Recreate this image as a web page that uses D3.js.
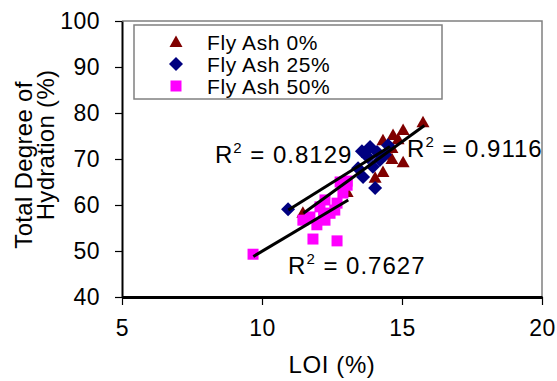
<!DOCTYPE html>
<html>
<head>
<meta charset="utf-8">
<script src="https://unpkg.com/d3@7/dist/d3.min.js"></script>
<style>
  body { margin: 0; background: #fff; }
  svg { display: block; font-family: Arial, "Liberation Sans", sans-serif; }
</style>
</head>
<body>
<div id="chart"></div>
<script>
// values
const seriesNames = ["Fly Ash 0%", "Fly Ash 25%", "Fly Ash 50%"];

const fa0Loi = [15.75, 15.04, 14.68, 14.32, 14.86, 14.64, 14.5, 14.64, 15.04, 14.32, 14.04, 13.04, 11.46];
const fa0Hyd = [78.0, 76.3, 75.2, 74.1, 74.3, 72.4, 70.9, 70.0, 69.3, 67.2, 65.9, 62.8, 58.3];

const fa25Loi = [10.93, 13.43, 13.57, 13.61, 13.79, 13.86, 13.96, 14.04, 14.11, 14.21, 14.39, 14.5];
const fa25Hyd = [59.1, 68.0, 71.7, 66.1, 70.4, 72.6, 68.3, 63.7, 71.5, 69.8, 70.9, 73.0];

const fa50Loi = [9.68, 11.46, 11.71, 11.82, 11.96, 12.07, 12.2, 12.25, 12.25, 12.43, 12.6, 12.68, 12.68, 12.79, 12.89, 13.04, 13.04];
const fa50Hyd = [49.3, 56.7, 57.4, 52.6, 55.7, 59.6, 58.2, 56.7, 61.1, 58.2, 58.9, 60.4, 52.2, 65.0, 62.6, 64.3, 65.2];

// trendline ends (LOI, hydration) and R² labels
const trendX0 = [11.48, 10.94, 9.69];
const trendX1 = [15.8, 14.57, 13.08];
const trendY0 = [58.2, 58.9, 48.8];
const trendY1 = [77.3, 72.7, 61.1];
const r2Text = ["0.9116", "0.8129", "0.7627"];
const r2X = [15.18, 8.32, 10.93];
const r2Y = [70.4, 69.1, 45.0];

const xTicks = [5, 10, 15, 20];
const yTicks = [40, 50, 60, 70, 80, 90, 100];

const width = 557, height = 381;
const colors = ["#800000", "#000080", "#ff00ff"];
const font = "Arial, 'Liberation Sans', sans-serif";

const svg = d3.select("#chart").append("svg")
  .attr("width", width)
  .attr("height", height);

const x = d3.scaleLinear().domain([5, 20]).range([122, 542]);
const y = d3.scaleLinear().domain([40, 100]).range([297, 21]);

// plot frame (top/right grey)
svg.append("path")
  .attr("d", `M${x(5)},${y(100)}H${x(20)}V${y(40)}`)
  .attr("fill", "none")
  .attr("stroke", "#808080")
  .attr("stroke-width", 1.5);

// axes
const xAxis = svg.append("g")
  .attr("transform", `translate(0,${y(40)})`)
  .call(d3.axisBottom(x).tickValues(xTicks).tickSize(8).tickSizeOuter(0).tickPadding(15));
xAxis.select(".domain").attr("stroke", "#000").attr("stroke-width", 3);
xAxis.selectAll(".tick line").attr("stroke", "#000").attr("stroke-width", 1.2);
xAxis.selectAll(".tick text").attr("font-size", 23).attr("letter-spacing", 0.5)
  .attr("fill", "#000").attr("font-family", font);

const yAxis = svg.append("g")
  .attr("transform", `translate(${x(5)},0)`)
  .call(d3.axisLeft(y).tickValues(yTicks).tickSize(7).tickSizeOuter(0).tickPadding(15));
yAxis.select(".domain").attr("stroke", "#000").attr("stroke-width", 2);
yAxis.selectAll(".tick line").attr("stroke", "#000").attr("stroke-width", 1.2);
yAxis.selectAll(".tick text").attr("font-size", 23).attr("letter-spacing", 0.5)
  .attr("fill", "#000").attr("font-family", font);

// axis titles
svg.append("text")
  .attr("x", 332).attr("y", 373)
  .attr("text-anchor", "middle")
  .attr("font-size", 24)
  .attr("letter-spacing", 0.6)
  .text("LOI (%)");

svg.append("text")
  .attr("transform", "translate(32,165) rotate(-90)")
  .attr("text-anchor", "middle")
  .attr("font-size", 24)
  .attr("letter-spacing", 0.3)
  .text("Total Degree of");
svg.append("text")
  .attr("transform", "translate(54,145) rotate(-90)")
  .attr("text-anchor", "middle")
  .attr("font-size", 24)
  .attr("letter-spacing", 0.3)
  .text("Hydration (%)");

// marker shapes
const shapes = [
  "M0,-6.5L6.5,5L-6.5,5Z",
  "M0,-7L7,0L0,7L-7,0Z",
  "M-5.5,-5.5H5.5V5.5H-5.5Z"
];

const series = [
  d3.zip(fa0Loi, fa0Hyd),
  d3.zip(fa25Loi, fa25Hyd),
  d3.zip(fa50Loi, fa50Hyd)
];

series.forEach((pts, i) => {
  svg.append("g")
    .selectAll("path")
    .data(pts)
    .enter()
    .append("path")
    .attr("d", shapes[i])
    .attr("fill", colors[i])
    .attr("transform", d => `translate(${x(d[0])},${y(d[1])})`);
});

// trendlines
svg.append("g")
  .selectAll("line")
  .data(d3.range(3))
  .enter()
  .append("line")
  .attr("x1", i => x(trendX0[i]))
  .attr("y1", i => y(trendY0[i]))
  .attr("x2", i => x(trendX1[i]))
  .attr("y2", i => y(trendY1[i]))
  .attr("stroke", "#000")
  .attr("stroke-width", 3);

// R² labels
const r2 = svg.append("g")
  .selectAll("text")
  .data(d3.range(3))
  .enter()
  .append("text")
  .attr("x", i => x(r2X[i]))
  .attr("y", i => y(r2Y[i]))
  .attr("font-size", 24)
  .attr("letter-spacing", 1);
r2.append("tspan").text("R");
r2.append("tspan").attr("font-size", 15).attr("dy", -10).text("2");
r2.append("tspan").attr("dy", 10).text(i => " = " + r2Text[i]);

// legend
const legend = svg.append("g");
legend.append("rect")
  .attr("x", 134).attr("y", 25)
  .attr("width", 308).attr("height", 74)
  .attr("fill", "#fff")
  .attr("stroke", "#808080")
  .attr("stroke-width", 1.5);

seriesNames.forEach((name, i) => {
  const cy = 42 + i * 22;
  legend.append("path")
    .attr("d", shapes[i])
    .attr("fill", colors[i])
    .attr("transform", `translate(176,${cy})`);
  legend.append("text")
    .attr("x", 207).attr("y", cy + 8)
    .attr("font-size", 21)
    .attr("letter-spacing", 0.6)
    .text(name);
});
</script>
</body>
</html>
